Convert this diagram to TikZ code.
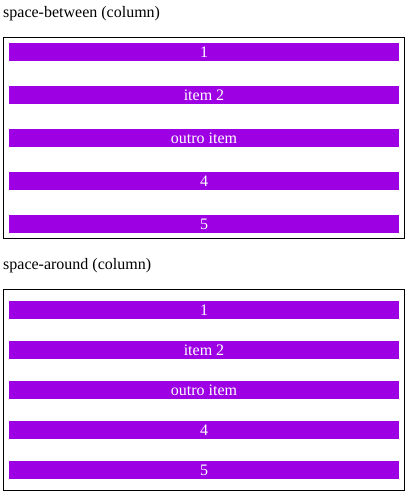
\documentclass[tikz,border=0pt]{standalone}
\usepackage{fontspec}
\setmainfont{Liberation Serif}
\usepackage{xcolor}
\usepackage{tikz}
\definecolor{barpurple}{RGB}{158,0,228}

\begin{document}
\begin{tikzpicture}[x=1pt,y=-1pt,
	frame/.style={draw=black,line width=1pt,minimum width=401pt,minimum height=201pt,inner sep=0pt},
	bar/.style={fill=barpurple,text=white,inner sep=0pt,minimum width=390pt,minimum height=18pt,
		text height=14.5pt,text depth=3.5pt,font=\fontsize{16}{19}\selectfont},
	caption/.style={anchor=base west,inner sep=0pt,font=\fontsize{16}{19}\selectfont}]
	\useasboundingbox (0,0) rectangle (415,492);
	% space-between
	\node[caption] (T1) at (3,17.5) {space-between (column)};
	\node[frame] (F1) at (204,138) {};
	\node[bar] (A1) at (204,52) {1};
	\node[bar] (A2) at (204,95) {item 2};
	\node[bar] (A3) at (204,138) {outro item};
	\node[bar] (A4) at (204,181) {4};
	\node[bar] (A5) at (204,224) {5};
	% space-around
	\node[caption] (T2) at (3,269.5) {space-around (column)};
	\node[frame] (F2) at (204,390) {};
	\node[bar] (B1) at (204,310) {1};
	\node[bar] (B2) at (204,350) {item 2};
	\node[bar] (B3) at (204,390) {outro item};
	\node[bar] (B4) at (204,430) {4};
	\node[bar] (B5) at (204,470) {5};
\end{tikzpicture}
\end{document}
